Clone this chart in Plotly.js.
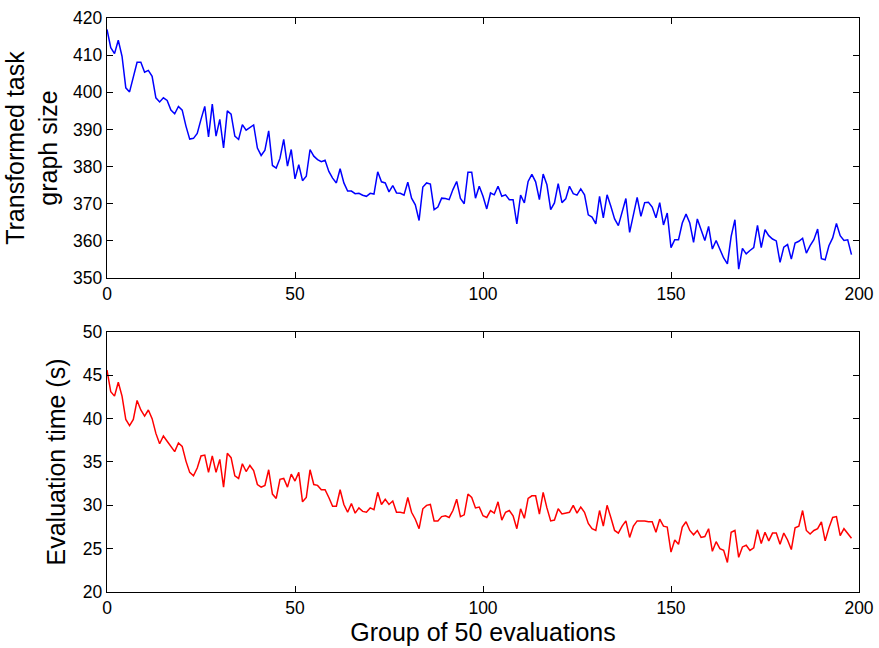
<!DOCTYPE html>
<html>
<head>
<meta charset="utf-8">
<script src="https://cdn.plot.ly/plotly-3.0.1.min.js"></script>
<style>
  html, body { margin: 0; padding: 0; background: #ffffff; }
  #chart { width: 879px; height: 648px; }
</style>
</head>
<body>
<div id="chart"></div>
<script>
// Transformed task graph size per group of 50 evaluations
const graphSize = [
  416.9, 412.0, 410.4, 414.0, 409.7, 401.2, 400.1, 404.3, 408.1, 408.1,
  405.4, 405.9, 404.3, 398.5, 397.4, 398.5, 397.8, 395.2, 394.2, 396.2,
  395.2, 390.9, 387.4, 387.6, 388.9, 392.7, 396.2, 388.0, 396.8, 388.2,
  392.7, 385.0, 395.0, 394.1, 388.2, 387.3, 391.3, 389.8, 390.4, 391.2,
  385.0, 383.0, 384.4, 389.6, 380.3, 379.6, 382.2, 387.3, 380.1, 384.6,
  376.7, 380.5, 376.2, 377.4, 384.6, 382.8, 381.9, 381.3, 381.7, 378.7,
  376.9, 375.6, 379.4, 375.6, 373.4, 373.4, 372.7, 372.8, 372.3, 372.0,
  372.8, 372.6, 378.6, 375.9, 375.6, 373.2, 374.9, 372.9, 372.8, 372.3,
  375.8, 371.5, 369.7, 365.5, 374.5, 375.6, 375.3, 368.4, 369.1, 371.5,
  371.4, 371.1, 373.8, 376.0, 371.4, 370.0, 378.5, 378.5, 371.5, 374.7,
  372.0, 368.6, 372.9, 372.4, 374.7, 372.0, 372.4, 371.1, 371.1, 364.6,
  372.3, 370.2, 376.0, 377.9, 375.9, 371.1, 378.0, 375.1, 368.4, 370.2,
  375.4, 370.3, 371.3, 374.7, 372.7, 372.3, 374.0, 372.4, 367.0, 366.4,
  364.6, 372.0, 366.2, 372.4, 369.3, 365.9, 364.1, 367.7, 371.4, 362.3,
  366.6, 371.7, 366.6, 370.3, 370.4, 369.1, 366.2, 370.3, 364.3, 367.5,
  358.2, 360.3, 360.3, 364.8, 367.2, 364.8, 359.6, 365.9, 363.0, 360.1,
  363.9, 357.8, 360.1, 357.8, 355.4, 353.8, 361.2, 365.7, 352.4, 358.0,
  356.5, 357.4, 358.2, 364.2, 358.2, 363.0, 361.4, 360.5, 360.0, 354.2,
  358.3, 359.0, 355.1, 359.4, 359.9, 360.7, 356.7, 358.7, 360.3, 363.2,
  355.2, 354.9, 358.7, 360.8, 364.7, 361.4, 360.1, 360.3, 356.3
];

// Evaluation time (s) per group of 50 evaluations
const evalTime = [
  45.6, 43.1, 42.6, 44.2, 42.6, 39.9, 39.2, 39.9, 42.1, 41.0,
  40.3, 41.0, 40.0, 38.3, 37.1, 38.0, 37.4, 36.8, 36.2, 37.2,
  36.8, 35.1, 33.8, 33.4, 34.3, 35.7, 35.8, 33.8, 35.7, 33.8,
  35.3, 32.1, 36.0, 35.5, 33.4, 33.1, 34.8, 33.9, 34.6, 34.0,
  32.4, 32.1, 32.3, 34.1, 31.3, 30.8, 33.0, 33.1, 32.1, 33.6,
  32.8, 33.8, 30.4, 30.9, 34.1, 32.4, 32.3, 31.8, 31.8, 30.9,
  29.9, 29.9, 31.8, 30.1, 29.2, 30.2, 29.1, 29.7, 29.3, 29.2,
  29.7, 29.5, 31.5, 30.1, 30.7, 30.1, 30.5, 29.2, 29.2, 29.1,
  30.9, 29.2, 28.4, 27.3, 29.6, 30.0, 30.1, 28.2, 28.2, 28.7,
  28.8, 28.6, 29.4, 30.7, 28.7, 28.9, 31.3, 30.9, 29.7, 29.8,
  28.8, 28.6, 29.4, 29.1, 30.4, 28.3, 29.2, 29.4, 28.8, 27.3,
  29.6, 28.5, 30.8, 31.1, 31.1, 29.0, 31.5, 29.7, 28.2, 28.3,
  29.6, 29.0, 29.1, 29.2, 30.0, 29.1, 29.8, 29.2, 27.9, 27.3,
  27.1, 29.4, 27.6, 30.0, 28.6, 27.1, 26.8, 27.6, 28.2, 26.3,
  27.6, 28.2, 28.2, 28.2, 28.1, 28.1, 26.9, 28.4, 27.6, 27.5,
  24.6, 26.0, 25.5, 27.5, 28.1, 27.1, 26.6, 27.1, 26.3, 26.4,
  27.3, 24.7, 25.8, 25.0, 24.8, 23.4, 26.9, 27.1, 24.0, 25.2,
  25.4, 24.8, 25.1, 27.2, 25.6, 26.9, 25.9, 26.8, 26.8, 25.5,
  26.8, 26.0, 24.9, 27.4, 27.6, 29.4, 27.1, 26.7, 27.1, 27.3,
  28.1, 25.9, 27.4, 28.6, 28.7, 26.5, 27.3, 26.8, 26.2
];

// Group index (0, 1, 2, ...) for each point
const groups = graphSize.map((_, i) => i);

const xTicks = [0, 50, 100, 150, 200];
const sizeTicks = [350, 360, 370, 380, 390, 400, 410, 420];
const timeTicks = [20, 25, 30, 35, 40, 45, 50];

const FONT = 'Liberation Sans, Arial, Helvetica, sans-serif';
const titleFont = { family: FONT, size: 25, color: '#000000' };

const traces = [
  {
    x: groups, y: graphSize, xaxis: 'x', yaxis: 'y',
    type: 'scatter', mode: 'lines',
    line: { color: '#0000ff', width: 1.5 },
    hoverinfo: 'x+y'
  },
  {
    x: groups, y: evalTime, xaxis: 'x2', yaxis: 'y2',
    type: 'scatter', mode: 'lines',
    line: { color: '#ff0000', width: 1.5 },
    hoverinfo: 'x+y'
  }
];

// Shared frame style: closed black box, inward ticks on every side
const frame = {
  showline: true, linecolor: '#000000', linewidth: 1.25,
  mirror: 'allticks', ticks: 'inside', ticklen: 6, tickwidth: 1,
  tickcolor: '#000000', showgrid: false, zeroline: false,
  tickfont: { family: FONT, size: 17.5, color: '#000000' }
};

const layout = {
  width: 879, height: 648,
  margin: { l: 107, r: 20, t: 18, b: 56 },
  paper_bgcolor: '#ffffff', plot_bgcolor: '#ffffff',
  showlegend: false,
  font: { family: FONT, color: '#000000' },
  xaxis: Object.assign({}, frame, {
    anchor: 'y', domain: [0, 1], range: [0, 200],
    tickvals: xTicks, ticktext: xTicks.map(String)
  }),
  yaxis: Object.assign({}, frame, {
    anchor: 'x', domain: [0.5470, 1], range: [350, 420],
    tickvals: sizeTicks, ticktext: sizeTicks.map(String),
    title: { text: 'Transformed task<br>graph size', font: titleFont, standoff: 8 }
  }),
  xaxis2: Object.assign({}, frame, {
    anchor: 'y2', domain: [0, 1], range: [0, 200],
    tickvals: xTicks, ticktext: xTicks.map(String),
    title: { text: 'Group of 50 evaluations', font: titleFont, standoff: 5 }
  }),
  yaxis2: Object.assign({}, frame, {
    anchor: 'x2', domain: [0, 0.4530], range: [20, 50],
    tickvals: timeTicks, ticktext: timeTicks.map(String),
    title: { text: 'Evaluation time (s)', font: titleFont, standoff: 10 }
  })
};

Plotly.newPlot('chart', traces, layout, { displayModeBar: false, staticPlot: true });
</script>
</body>
</html>
